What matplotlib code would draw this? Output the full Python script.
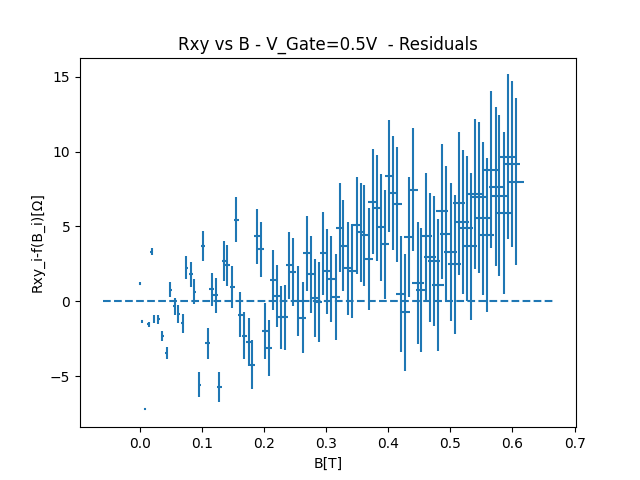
import matplotlib
matplotlib.use('Agg')
import matplotlib.pyplot as plt

# magnetic field values B_i [T]
b = [0.000, 0.003, 0.009, 0.014, 0.019, 0.023, 0.030, 0.036, 0.043, 0.049,
     0.056, 0.062, 0.069, 0.075, 0.082, 0.088, 0.096, 0.102, 0.109, 0.1155,
     0.122, 0.128, 0.136, 0.141, 0.149, 0.155, 0.162, 0.168, 0.175, 0.181,
     0.189, 0.195, 0.202, 0.208, 0.2145, 0.221, 0.2275, 0.234, 0.2405, 0.247,
     0.2555, 0.262, 0.2685, 0.275, 0.2825, 0.288, 0.2955, 0.302, 0.308, 0.316,
     0.3225, 0.3275, 0.3355, 0.342, 0.349, 0.3555, 0.361, 0.3685, 0.375, 0.3815,
     0.388, 0.3945, 0.401, 0.4075, 0.414, 0.4205, 0.427, 0.4335, 0.4405, 0.448,
     0.4535, 0.461, 0.4675, 0.474, 0.4805, 0.487, 0.4935, 0.5005, 0.507, 0.5135,
     0.520, 0.5265, 0.533, 0.5395, 0.5465, 0.553, 0.5595, 0.566, 0.5735, 0.579,
     0.586, 0.5925, 0.600, 0.6065]

# residuals Rxy_i - f(B_i)
res = [1.18, -1.35, -7.2, -1.55, 3.3, -1.2, -1.2, -2.35, -3.45, 0.78,
       -0.35, -0.86, -1.48, 2.24, 1.79, 0.64, -5.58, 3.72, -2.81, 0.80,
       0.40, -5.71, 2.68, 2.39, 0.93, 5.45, -0.91, -2.30, -2.72, -4.23,
       4.34, 3.46, -1.99, -3.12, 1.42, 0.35, -1.08, -1.08, 2.39, 1.95,
       0.02, -1.10, 3.19, 1.79, 0.22, -0.04, 3.19, 1.99, 1.48, 0.29,
       4.92, 3.72, 2.21, 2.01, 5.07, 4.60, 4.40, 2.81, 6.66, 6.20,
       4.94, 3.81, 8.39, 7.20, 6.47, 0.49, -0.75, 4.27, 7.46, 1.22,
       0.75, 4.34, 2.94, 2.68, 1.08, 6.00, 4.47, 3.28, 2.48, 6.53,
       5.27, 4.87, 3.67, 7.18, 6.93, 5.53, 4.40, 8.79, 7.66, 7.06,
       5.87, 9.65, 9.19, 7.99]

# uncertainty on residuals
res_err = [0.09, 0.09, 0.09, 0.14, 0.24, 0.27, 0.30, 0.33, 0.40, 0.50,
           0.55, 0.60, 0.66, 0.76, 0.83, 0.83, 0.83, 1.00, 1.03, 1.09,
           1.16, 1.00, 1.33, 1.36, 1.40, 1.48, 1.50, 1.56, 1.60, 1.66,
           1.83, 1.86, 1.86, 1.89, 2.03, 2.05, 2.09, 2.15, 2.26, 2.28,
           2.35, 2.38, 2.52, 2.56, 2.58, 2.65, 2.75, 2.81, 2.85, 2.88,
           2.98, 3.06, 3.11, 3.12, 3.23, 3.29, 3.36, 3.39, 3.51, 3.54,
           3.58, 3.65, 3.74, 3.81, 3.84, 3.88, 3.89, 4.00, 4.08, 4.08,
           4.14, 4.24, 4.31, 4.34, 4.41, 4.51, 4.54, 4.61, 4.64, 4.77,
           4.81, 4.84, 4.90, 5.02, 5.04, 5.10, 5.14, 5.24, 5.30, 5.37,
           5.40, 5.50, 5.54, 5.60]

# uncertainty on B
b_err = [0.0015, 0.0015, 0.0015, 0.0018, 0.002, 0.002, 0.002, 0.0025, 0.0025, 0.0025,
         0.0025, 0.0028, 0.0028, 0.003, 0.003, 0.003, 0.003, 0.0035, 0.0035, 0.0035,
         0.0035, 0.0038, 0.0038, 0.004, 0.004, 0.004, 0.004, 0.0042, 0.0043, 0.0043,
         0.0044, 0.0045, 0.0045, 0.0045, 0.005, 0.005, 0.005, 0.005, 0.0052, 0.0052,
         0.0054, 0.0055, 0.0055, 0.0056, 0.0057, 0.0058, 0.006, 0.006, 0.006, 0.006,
         0.0062, 0.0063, 0.0064, 0.0065, 0.0066, 0.0067, 0.0068, 0.0072, 0.007, 0.007,
         0.007, 0.0071, 0.007, 0.0075, 0.0076, 0.0078, 0.008, 0.008, 0.008, 0.009,
         0.009, 0.009, 0.0097, 0.0097, 0.0097, 0.0098, 0.0099, 0.010, 0.010, 0.010,
         0.0102, 0.0104, 0.0106, 0.0108, 0.011, 0.011, 0.0112, 0.0114, 0.0115, 0.0116,
         0.0117, 0.012, 0.012, 0.012]

# zero reference line
line_b = [-0.06, 0.666]
line_y = [0, 0]

plt.errorbar(b, res, yerr=res_err, xerr=b_err, linestyle='none', color='C0')
plt.plot(line_b, line_y, '--', color='C0')

plt.title('Rxy vs B - V_Gate=0.5V  - Residuals')
plt.xlabel('B[T]')
plt.ylabel('Rxy_i-f(B_i)[\u03a9]')

plt.savefig('out.png')
